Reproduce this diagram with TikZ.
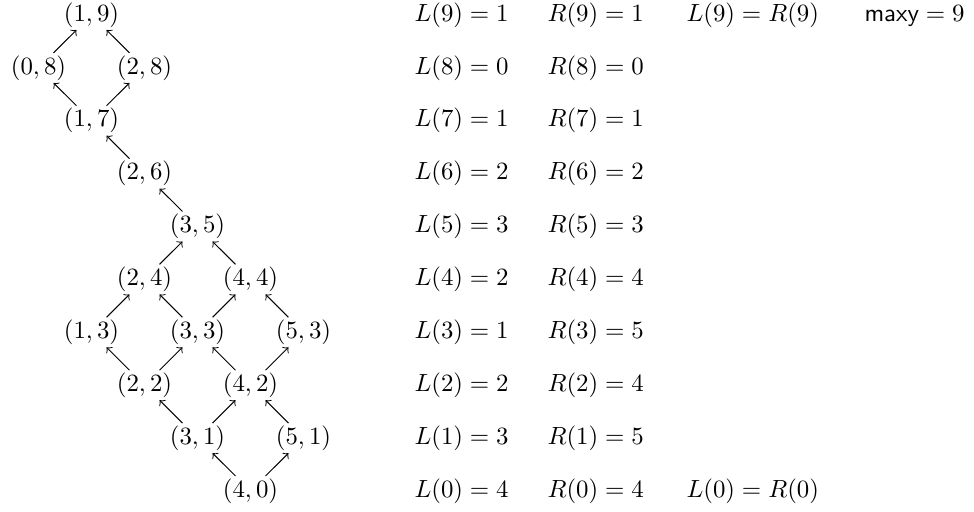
\documentclass[tikz,border=0pt]{standalone}
\usetikzlibrary{arrows}
\begin{document}
\begin{tikzpicture}[x=0.4026pt,y=-0.4026pt,
  pt/.style={inner sep=0.85pt,text height=7.5pt,text depth=2.5pt},
  eq/.style={inner sep=0pt,anchor=west,text height=7.5pt,text depth=2.5pt},
  edge/.style={->,line width=0.4pt}]
\path[use as bounding box] (0,0) rectangle (974,512);
% lattice nodes: x = 38.5 + 53 i, y = 491 - 52.9 j
\node[pt] (n19) at (91.5,15) {$(1,9)$};
\node[pt] (n08) at (38.5,67.9) {$(0,8)$};
\node[pt] (n28) at (144.5,67.9) {$(2,8)$};
\node[pt] (n17) at (91.5,120.7) {$(1,7)$};
\node[pt] (n26) at (144.5,173.6) {$(2,6)$};
\node[pt] (n35) at (197.5,226.5) {$(3,5)$};
\node[pt] (n24) at (144.5,279.4) {$(2,4)$};
\node[pt] (n44) at (250.5,279.4) {$(4,4)$};
\node[pt] (n13) at (91.5,332.3) {$(1,3)$};
\node[pt] (n33) at (197.5,332.3) {$(3,3)$};
\node[pt] (n53) at (303.5,332.3) {$(5,3)$};
\node[pt] (n22) at (144.5,385.2) {$(2,2)$};
\node[pt] (n42) at (250.5,385.2) {$(4,2)$};
\node[pt] (n31) at (197.5,438.1) {$(3,1)$};
\node[pt] (n51) at (303.5,438.1) {$(5,1)$};
\node[pt] (n40) at (250.5,491) {$(4,0)$};
% edges
\draw[edge] (n08) -- (n19);
\draw[edge] (n28) -- (n19);
\draw[edge] (n17) -- (n08);
\draw[edge] (n17) -- (n28);
\draw[edge] (n26) -- (n17);
\draw[edge] (n35) -- (n26);
\draw[edge] (n24) -- (n35);
\draw[edge] (n44) -- (n35);
\draw[edge] (n13) -- (n24);
\draw[edge] (n33) -- (n24);
\draw[edge] (n33) -- (n44);
\draw[edge] (n53) -- (n44);
\draw[edge] (n22) -- (n13);
\draw[edge] (n22) -- (n33);
\draw[edge] (n42) -- (n33);
\draw[edge] (n42) -- (n53);
\draw[edge] (n31) -- (n22);
\draw[edge] (n31) -- (n42);
\draw[edge] (n51) -- (n42);
\draw[edge] (n40) -- (n31);
\draw[edge] (n40) -- (n51);
% right column
\node[eq] (l9) at (414,15) {$L(9)=1$};
\node[eq] (r9) at (547,15) {$R(9)=1$};
\node[eq] (e9) at (686,15) {$L(9)=R(9)$};
\node[eq] (m9) at (864,15) {$\textsf{maxy}=9$};
\node[eq] (l8) at (414,67.9) {$L(8)=0$};
\node[eq] (r8) at (547,67.9) {$R(8)=0$};
\node[eq] (l7) at (414,120.7) {$L(7)=1$};
\node[eq] (r7) at (547,120.7) {$R(7)=1$};
\node[eq] (l6) at (414,173.6) {$L(6)=2$};
\node[eq] (r6) at (547,173.6) {$R(6)=2$};
\node[eq] (l5) at (414,226.5) {$L(5)=3$};
\node[eq] (r5) at (547,226.5) {$R(5)=3$};
\node[eq] (l4) at (414,279.4) {$L(4)=2$};
\node[eq] (r4) at (547,279.4) {$R(4)=4$};
\node[eq] (l3) at (414,332.3) {$L(3)=1$};
\node[eq] (r3) at (547,332.3) {$R(3)=5$};
\node[eq] (l2) at (414,385.2) {$L(2)=2$};
\node[eq] (r2) at (547,385.2) {$R(2)=4$};
\node[eq] (l1) at (414,438.1) {$L(1)=3$};
\node[eq] (r1) at (547,438.1) {$R(1)=5$};
\node[eq] (l0) at (414,491) {$L(0)=4$};
\node[eq] (r0) at (547,491) {$R(0)=4$};
\node[eq] (e0) at (686,491) {$L(0)=R(0)$};
\end{tikzpicture}
\end{document}
